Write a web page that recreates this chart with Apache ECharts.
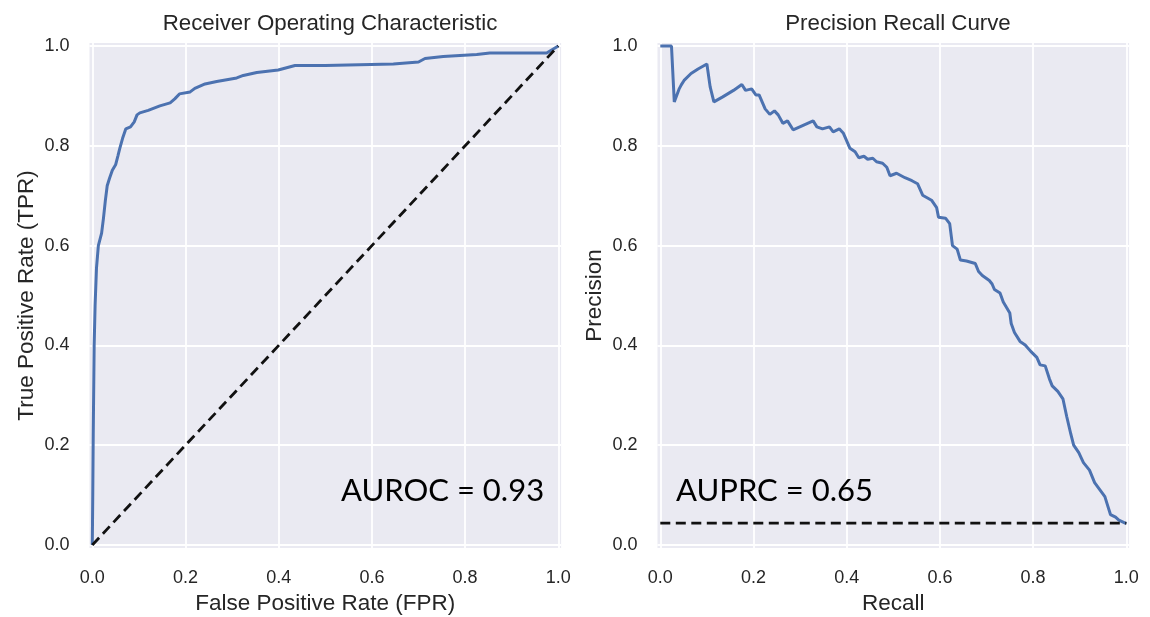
<!DOCTYPE html>
<html>
<head>
<meta charset="utf-8">
<script src="https://cdn.jsdelivr.net/npm/echarts@6/dist/echarts.min.js"></script>
<style>html,body{margin:0;padding:0;background:#fff}#c{width:1150px;height:617px}</style>
</head>
<body>
<div id="c"></div>
<script>
// ROC curve (False Positive Rate, True Positive Rate)
const rocFpr = [0, 0.001, 0.002, 0.004, 0.006, 0.009, 0.013, 0.02, 0.024, 0.028, 0.032, 0.037, 0.043, 0.05, 0.055, 0.059, 0.065, 0.072, 0.082, 0.09, 0.096, 0.102, 0.12, 0.124, 0.145, 0.167, 0.177, 0.187, 0.21, 0.22, 0.242, 0.267, 0.31, 0.324, 0.353, 0.399, 0.403, 0.435, 0.5, 0.646, 0.7, 0.714, 0.753, 0.825, 0.853, 0.975, 1];
const rocTpr = [0, 0.1, 0.22, 0.40, 0.48, 0.555, 0.60, 0.625, 0.655, 0.69, 0.72, 0.735, 0.751, 0.762, 0.78, 0.795, 0.815, 0.834, 0.838, 0.848, 0.862, 0.866, 0.871, 0.875, 0.88, 0.886, 0.894, 0.904, 0.908, 0.915, 0.924, 0.929, 0.936, 0.941, 0.947, 0.952, 0.955, 0.961, 0.961, 0.964, 0.968, 0.975, 0.979, 0.983, 0.986, 0.986, 1];
// chance diagonal
const rocChanceX = [0, 1];
const rocChanceY = [0, 1];

// Precision-Recall curve
const prRecall = [0, 0.024, 0.03, 0.04, 0.045, 0.051, 0.066, 0.081, 0.1, 0.107, 0.115, 0.134, 0.157, 0.175, 0.183, 0.196, 0.205, 0.212, 0.225, 0.235, 0.245, 0.253, 0.263, 0.273, 0.285, 0.328, 0.336, 0.348, 0.363, 0.371, 0.384, 0.393, 0.407, 0.418, 0.426, 0.437, 0.445, 0.456, 0.464, 0.477, 0.486, 0.493, 0.507, 0.525, 0.54, 0.552, 0.563, 0.582, 0.593, 0.597, 0.612, 0.621, 0.627, 0.637, 0.644, 0.657, 0.676, 0.683, 0.691, 0.706, 0.712, 0.717, 0.729, 0.736, 0.75, 0.753, 0.76, 0.772, 0.783, 0.795, 0.808, 0.815, 0.826, 0.835, 0.841, 0.853, 0.864, 0.872, 0.881, 0.887, 0.898, 0.908, 0.921, 0.932, 0.943, 0.954, 0.96, 0.966, 0.977, 0.984, 1];
const prPrecision = [1, 1, 0.888, 0.913, 0.922, 0.931, 0.945, 0.954, 0.964, 0.918, 0.888, 0.898, 0.911, 0.923, 0.911, 0.914, 0.902, 0.902, 0.874, 0.863, 0.87, 0.862, 0.845, 0.85, 0.832, 0.85, 0.838, 0.834, 0.838, 0.828, 0.834, 0.825, 0.795, 0.788, 0.776, 0.779, 0.773, 0.775, 0.768, 0.765, 0.757, 0.74, 0.745, 0.736, 0.73, 0.724, 0.701, 0.691, 0.676, 0.657, 0.655, 0.644, 0.6, 0.593, 0.571, 0.569, 0.564, 0.548, 0.54, 0.53, 0.523, 0.512, 0.505, 0.487, 0.465, 0.444, 0.426, 0.408, 0.401, 0.388, 0.376, 0.361, 0.359, 0.333, 0.319, 0.308, 0.293, 0.258, 0.222, 0.2, 0.185, 0.165, 0.15, 0.125, 0.111, 0.097, 0.079, 0.061, 0.056, 0.05, 0.043];
// no-skill baseline (positive rate)
const prBaselineX = [0, 1];
const prBaselineY = [0.044, 0.044];

const tickValues = [0, 0.2, 0.4, 0.6, 0.8, 1.0];
const titles = ['Receiver Operating Characteristic', 'Precision Recall Curve'];
const xNames = ['False Positive Rate (FPR)', 'Recall'];
const yNames = ['True Positive Rate (TPR)', 'Precision'];
const annotations = ['AUROC = 0.93', 'AUPRC = 0.65'];

const zip = (a, b) => a.map((v, i) => [v, b[i]]);

const FONT = '"Liberation Sans", Arial, sans-serif';
const TXT = '#262626';

function makeAxis(idx, name, isY) {
  return {
    type: 'value', gridIndex: idx, min: -0.006, max: 1.006,
    name: name, nameLocation: 'middle',
    nameGap: isY ? 51 : 44,
    nameTextStyle: { fontFamily: FONT, fontSize: 22.5, color: TXT },
    axisLine: { show: false },
    axisTick: { show: false, customValues: tickValues },
    axisLabel: {
      customValues: tickValues, fontFamily: FONT, fontSize: 18, color: TXT,
      margin: isY ? 20 : 21,
      formatter: v => v.toFixed(1)
    },
    splitLine: { show: true, lineStyle: { color: '#ffffff', width: 1.8 } }
  };
}

const chart = echarts.init(document.getElementById('c'));
chart.setOption({
  animation: false,
  backgroundColor: '#ffffff',
  title: [
    { text: titles[0], left: 325, top: 8, textAlign: 'center', textStyle: { fontFamily: FONT, fontSize: 22.3, fontWeight: 'normal', color: TXT } },
    { text: titles[1], left: 893, top: 8, textAlign: 'center', textStyle: { fontFamily: FONT, fontSize: 22.3, fontWeight: 'normal', color: TXT } }
  ],
  grid: [
    { left: 89.5, top: 43, width: 471.6, height: 505, show: true, backgroundColor: '#EAEAF2', borderWidth: 0, containLabel: false, outerBoundsMode: 'none' },
    { left: 657.5, top: 43, width: 471.6, height: 505, show: true, backgroundColor: '#EAEAF2', borderWidth: 0, containLabel: false, outerBoundsMode: 'none' }
  ],
  xAxis: [makeAxis(0, xNames[0], false), makeAxis(1, xNames[1], false)],
  yAxis: [makeAxis(0, yNames[0], true), makeAxis(1, yNames[1], true)],
  graphic: [
    { type: 'text', z: 100, left: 341, top: 475, style: { text: annotations[0], fontFamily: 'Lato, "Open Sans", sans-serif', fontSize: 31, fill: '#000' } },
    { type: 'text', z: 100, left: 676, top: 475, style: { text: annotations[1], fontFamily: 'Lato, "Open Sans", sans-serif', fontSize: 31, fill: '#000' } }
  ],
  series: [
    { type: 'line', xAxisIndex: 0, yAxisIndex: 0, data: zip(rocFpr, rocTpr), showSymbol: false, lineStyle: { color: '#4C72B0', width: 3 }, z: 3 },
    { type: 'line', xAxisIndex: 0, yAxisIndex: 0, data: zip(rocChanceX, rocChanceY), showSymbol: false, lineStyle: { color: '#111', width: 2.8, type: [10, 5.5] }, z: 4 },
    { type: 'line', xAxisIndex: 1, yAxisIndex: 1, data: zip(prRecall, prPrecision), showSymbol: false, lineStyle: { color: '#4C72B0', width: 3 }, z: 3 },
    { type: 'line', xAxisIndex: 1, yAxisIndex: 1, data: zip(prBaselineX, prBaselineY), showSymbol: false, lineStyle: { color: '#111', width: 2.8, type: [10, 5.5] }, z: 4 }
  ]
});
</script>
</body>
</html>
